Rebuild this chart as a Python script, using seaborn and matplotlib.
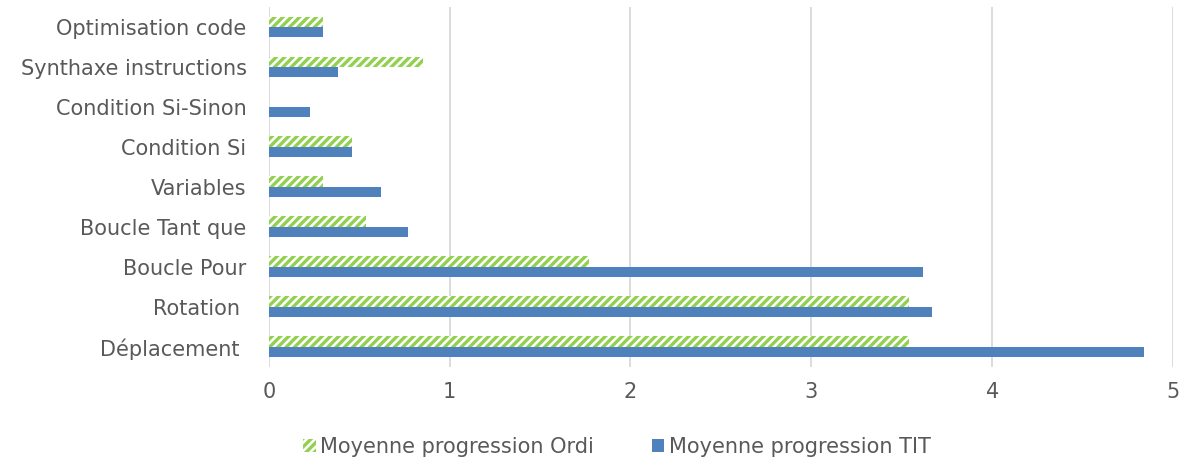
import pandas as pd
import seaborn as sns
import matplotlib.pyplot as plt
from matplotlib.patches import Patch

categories = [
    "Optimisation code",
    "Synthaxe instructions",
    "Condition Si-Sinon",
    "Condition Si",
    "Variables",
    "Boucle Tant que",
    "Boucle Pour",
    "Rotation ",
    "Déplacement ",
]
ordi = [0.30, 0.85, 0.0, 0.46, 0.30, 0.54, 1.77, 3.54, 3.54]
tit = [0.30, 0.38, 0.23, 0.46, 0.62, 0.77, 3.62, 3.67, 4.84]
series = ["Moyenne progression Ordi", "Moyenne progression TIT"]

GREEN = "#92D050"
BLUE = "#4F81BD"
TEXT = "#595959"

df = pd.DataFrame({
    "categorie": categories * 2,
    "valeur": ordi + tit,
    "serie": [series[0]] * len(categories) + [series[1]] * len(categories),
})

sns.set_theme(style="white")
plt.rcParams["font.family"] = ["DejaVu Sans"]
plt.rcParams["hatch.linewidth"] = 2.4

fig = plt.figure(figsize=(12, 4.62), dpi=100)
ax = fig.add_axes([0.224, 0.206, 0.7535, 0.779])

sns.barplot(data=df, x="valeur", y="categorie", hue="serie", hue_order=series,
            order=categories, palette=[GREEN, BLUE], width=0.52, orient="h",
            ax=ax, legend=False, saturation=1)

# Ordi bars: white with green diagonal stripes
for bar in ax.containers[0]:
    bar.set_facecolor("white")
    bar.set_edgecolor(GREEN)
    bar.set_hatch("////")
    bar.set_linewidth(0)
for bar in ax.containers[1]:
    bar.set_edgecolor("none")

ax.set_xlim(0, 5)
ax.set_xticks(range(6))
ax.grid(axis="x", color="#D9D9D9", linewidth=1.3)
ax.set_axisbelow(True)
for side in ["top", "right", "bottom", "left"]:
    ax.spines[side].set_visible(False)
ax.tick_params(axis="both", length=0, labelsize=15, labelcolor=TEXT)
ax.tick_params(axis="y", pad=16)
ax.tick_params(axis="x", pad=11)
ax.set_xlabel("")
ax.set_ylabel("")

handles = [
    Patch(facecolor="white", edgecolor=GREEN, hatch="////", linewidth=0),
    Patch(facecolor=BLUE, edgecolor="none"),
]
fig.legend(handles, series, loc="center", bbox_to_anchor=(0.514, 0.033), ncol=2,
           frameon=False, fontsize=15, labelcolor=TEXT, handlelength=0.6,
           handleheight=0.6, handletextpad=0.2, columnspacing=2.8)

fig.savefig("out.png", dpi=100)
